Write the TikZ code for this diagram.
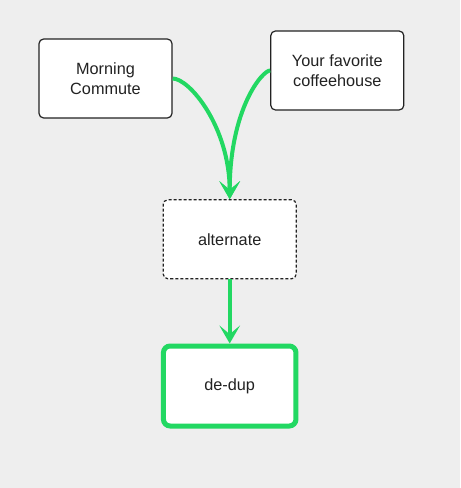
\documentclass[tikz,border=0pt]{standalone}
\usepackage{fontspec}
\setmainfont{Liberation Sans}
\usetikzlibrary{arrows.meta}
\definecolor{flowgreen}{RGB}{34,216,98}
\definecolor{canvas}{RGB}{238,238,238}
\definecolor{ink}{RGB}{34,34,34}
\tikzset{
  box/.style={draw=ink, fill=white, rounded corners=3.5pt, line width=0.9pt,
    minimum width=99.75pt, minimum height=59.25pt, align=center,
    text=ink, font=\fontsize{12.2}{15}\selectfont},
  flow/.style={draw=flowgreen, line width=3pt,
    -{Stealth[length=13.5pt, width=15.5pt, inset=6.5pt]}}
}
\begin{document}
\begin{tikzpicture}[x=0.75pt, y=-0.75pt]
                \fill[canvas] (0,0) rectangle (460,488);
                \useasboundingbox (0,0) rectangle (460,488);
                \node[box] (commute) at (105.5,78.5) {Morning\\Commute};
                \node[box] (coffee) at (337.3,70.5) {Your favorite\\coffeehouse};
                \node[box, dash pattern=on 2.25pt off 1.5pt] (alternate) at (229.7,239.3) {alternate};
                \node[box, draw=flowgreen, line width=3.75pt, rounded corners=5pt, minimum width=99.4pt, minimum height=60pt] (dedup) at (229.7,386) {de-dup};
                \draw[flow] (commute.east) .. controls +(17,0) and +(0,-72) .. (alternate.north);
                \draw[flow] (coffee.west) .. controls +(-8,0) and +(0,-90) .. (alternate.north);
                \draw[flow] (alternate.south) -- (dedup.north);
                \end{tikzpicture}
\end{document}
